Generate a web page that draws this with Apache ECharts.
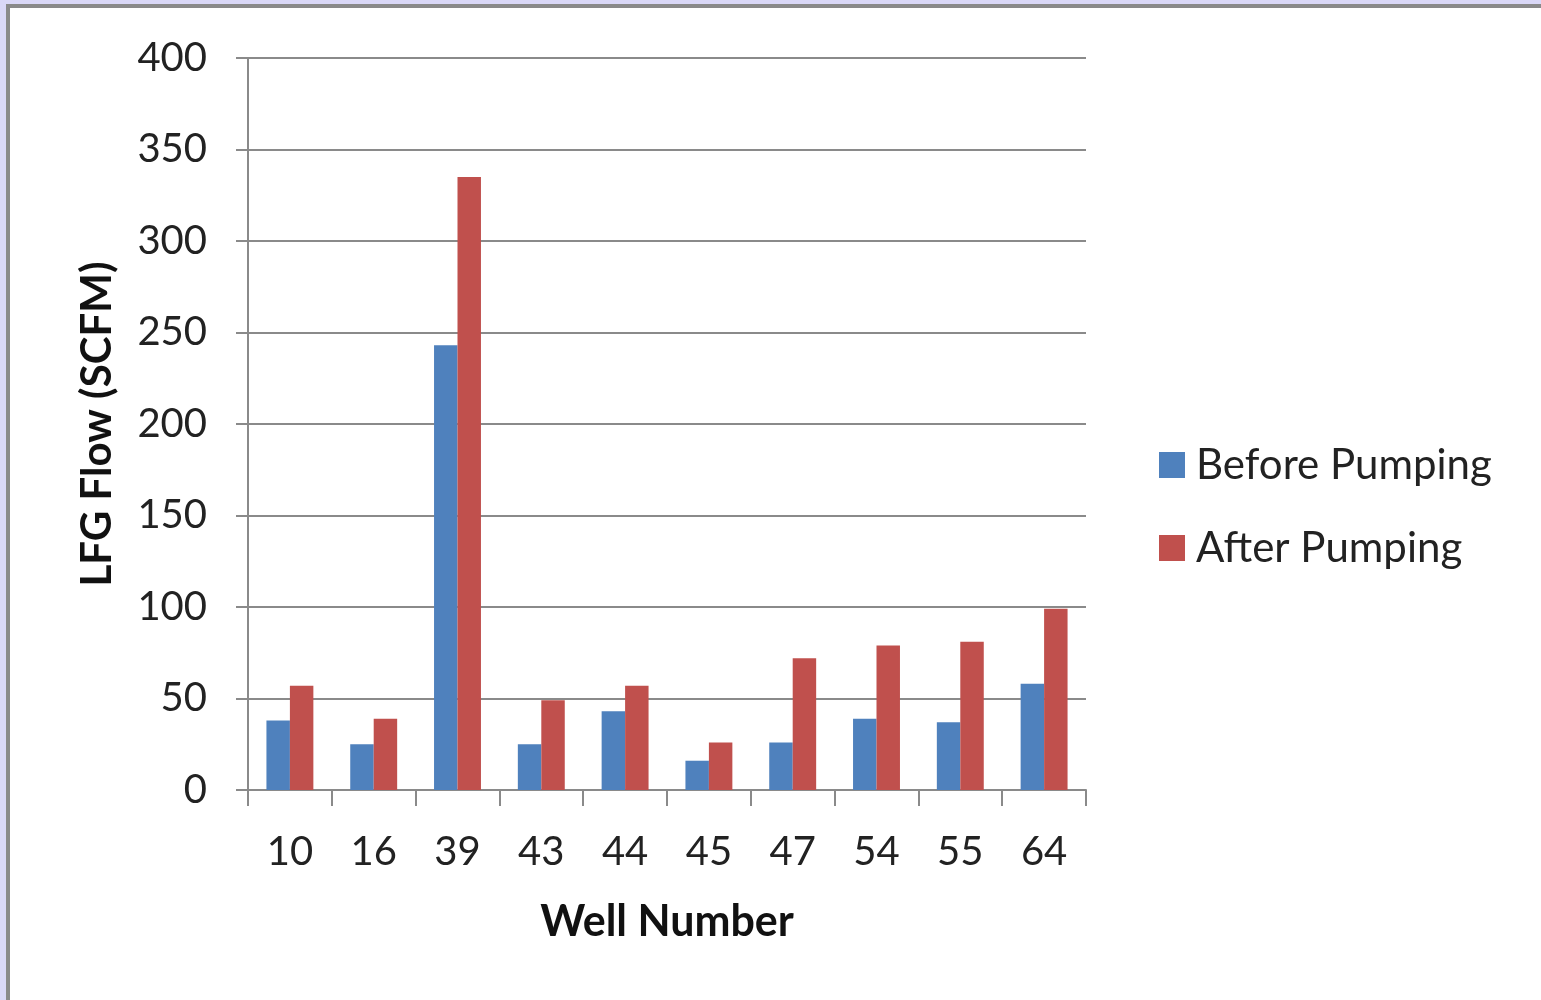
<!DOCTYPE html>
<html>
<head>
<meta charset="utf-8">
<script src="https://cdn.jsdelivr.net/npm/echarts@6/dist/echarts.min.js"></script>
<style>
html,body{margin:0;padding:0;background:#fff;}
#chart{width:1541px;height:1000px;}
</style>
</head>
<body>
<div id="chart"></div>
<script>
const categories = ['10','16','39','43','44','45','47','54','55','64'];
const beforePumping = [38, 25, 243, 25, 43, 16, 26, 39, 37, 58];
const afterPumping = [57, 39, 335, 49, 57, 26, 72, 79, 81, 99];
const yTicks = [0, 50, 100, 150, 200, 250, 300, 350, 400];

const FONT = 'Lato';
const chart = echarts.init(document.getElementById('chart'));
chart.setOption({
  backgroundColor: '#ffffff',
  animation: false,
  textStyle: { fontFamily: FONT },
  graphic: [
    { type: 'rect', shape: { x: 0, y: 0, width: 1541, height: 4 }, style: { fill: '#DAD8F7' }, z: 100 },
    { type: 'rect', shape: { x: 0, y: 4, width: 1541, height: 4 }, style: { fill: '#8a8a8a' }, z: 100 },
    { type: 'rect', shape: { x: 0, y: 0, width: 6, height: 1000 }, style: { fill: '#DAD8F7' }, z: 100 },
    { type: 'rect', shape: { x: 6, y: 4, width: 4, height: 996 }, style: { fill: '#8a8a8a' }, z: 100 }
  ],
  grid: { left: 248, right: 455, top: 58, bottom: 210, containLabel: false },
  legend: {
    orient: 'vertical',
    left: 1154,
    top: 439,
    itemWidth: 26,
    itemHeight: 26,
    itemGap: 41,
    icon: 'rect',
    textStyle: { fontFamily: FONT, fontSize: 42, color: '#222', padding: [0, 0, 0, 6] },
    data: ['Before Pumping', 'After Pumping']
  },
  xAxis: {
    type: 'category',
    data: categories,
    name: 'Well Number',
    nameLocation: 'middle',
    nameGap: 111,
    nameTextStyle: { fontFamily: FONT, fontSize: 43, fontWeight: 'bold', color: '#111' },
    axisLine: { show: true, lineStyle: { color: '#8a8a8a', width: 2 } },
    axisTick: { show: true, length: 16, lineStyle: { color: '#8a8a8a', width: 2 } },
    axisLabel: { fontFamily: FONT, fontSize: 40, color: '#222', margin: 42 }
  },
  yAxis: {
    type: 'value',
    min: 0,
    max: 400,
    interval: 50,
    name: 'LFG Flow (SCFM)',
    nameLocation: 'middle',
    nameGap: 130,
    nameRotate: 90,
    nameTextStyle: { fontFamily: FONT, fontSize: 42, fontWeight: 'bold', color: '#111' },
    axisLine: { show: true, lineStyle: { color: '#8a8a8a', width: 2 } },
    axisTick: { show: true, length: 12, lineStyle: { color: '#8a8a8a', width: 2 } },
    axisLabel: {
      fontFamily: FONT, fontSize: 40, color: '#222', margin: 41,
      formatter: v => yTicks.includes(v) ? String(v) : ''
    },
    splitLine: { show: true, lineStyle: { color: '#8a8a8a', width: 2 } }
  },
  series: [
    {
      name: 'Before Pumping', type: 'bar', data: beforePumping,
      barGap: '0%', barCategoryGap: '44%',
      itemStyle: { color: '#4F81BD' }
    },
    {
      name: 'After Pumping', type: 'bar', data: afterPumping,
      barGap: '0%', barCategoryGap: '44%',
      itemStyle: { color: '#C0504D' }
    }
  ]
});
</script>
</body>
</html>
